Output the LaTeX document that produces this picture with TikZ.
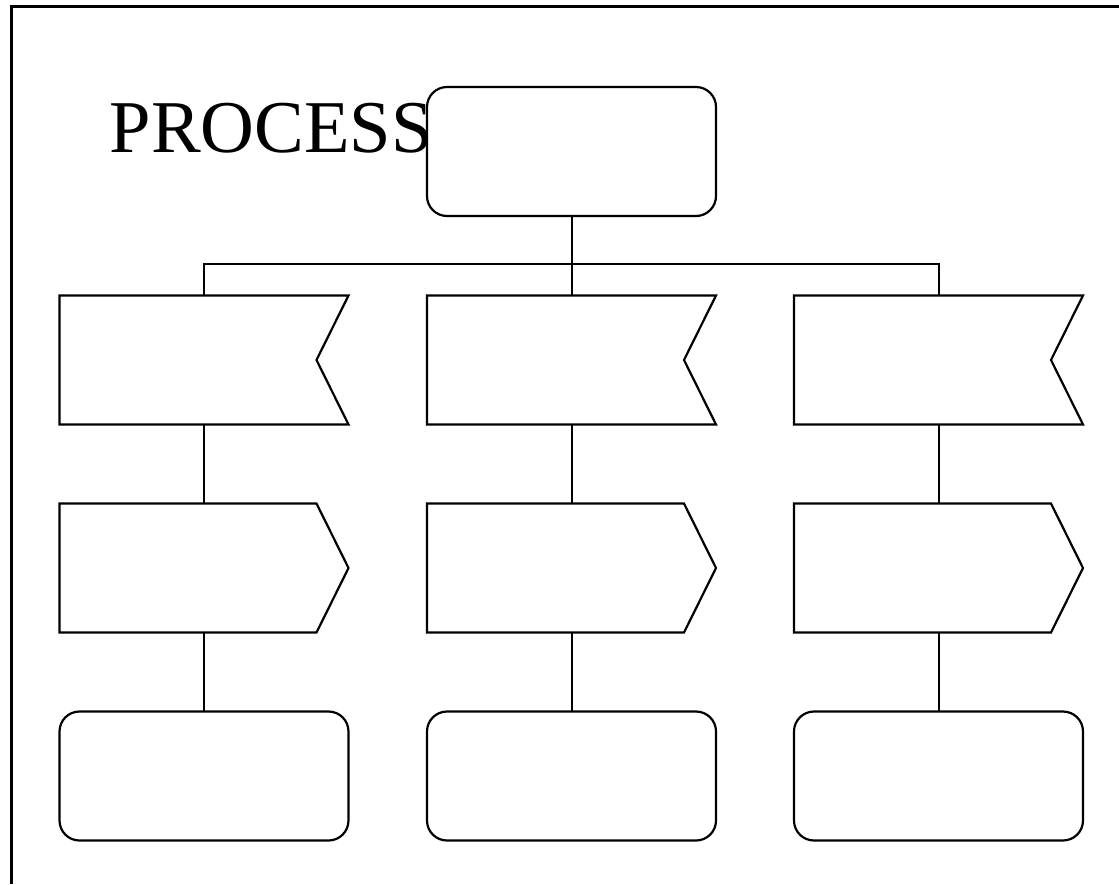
\documentclass[tikz,border=0pt]{standalone}
\usepackage{fontspec}
\setmainfont{Liberation Serif}
\begin{document}
\begin{tikzpicture}[x=1pt,y=-1pt,
  frame/.style={line width=2.6pt},
  box/.style={minimum width=289pt,minimum height=129pt,inner sep=0pt,outer sep=0pt},
  roundbox/.style={box,draw,line width=2.2pt,rounded corners=20pt},
  plainbox/.style={box,draw=none},
  outline/.style={line width=2.2pt,line join=miter},
  link/.style={line width=2pt}]
\useasboundingbox (0,0) rectangle (1119,884);
% page frame: top and left edges
\draw[frame] (1119,6.5) -- (11.5,6.5) -- (11.5,884);
% title
\node[anchor=base west,inner sep=0pt,font=\fontsize{74.5}{80}\selectfont] (title) at (109.5,152) {PROCESS};
% top box
\node[roundbox] (top) at (571.5,151.5) {};
% flags (notched right side)
\foreach \n/\x in {f1/204,f2/571.5,f3/938.5}{
  \node[plainbox] (\n) at (\x,360) {};
  \draw[outline] (\n.north west) -- (\n.north east) -- ([xshift=-32pt]\n.east)
    -- (\n.south east) -- (\n.south west) -- cycle;
}
% pointed boxes
\foreach \n/\x in {a1/204,a2/571.5,a3/938.5}{
  \node[plainbox] (\n) at (\x,568) {};
  \draw[outline] (\n.north west) -- ([xshift=-32pt]\n.north east) -- (\n.east)
    -- ([xshift=-32pt]\n.south east) -- (\n.south west) -- cycle;
}
% rounded result boxes
\foreach \n/\x in {r1/204,r2/571.5,r3/938.5}{
  \node[roundbox] (\n) at (\x,776) {};
}
% connectors
\coordinate (bus) at (571.5,264);
\draw[link] (top.south) -- (bus);
\draw[link] (f1.north) |- (bus);
\draw[link] (f3.north) |- (bus);
\draw[link] (f2.north) -- (bus);
\foreach \i in {1,2,3}{
  \draw[link] (f\i.south) -- (a\i.north);
  \draw[link] (a\i.south) -- (r\i.north);
}
\end{tikzpicture}
\end{document}
